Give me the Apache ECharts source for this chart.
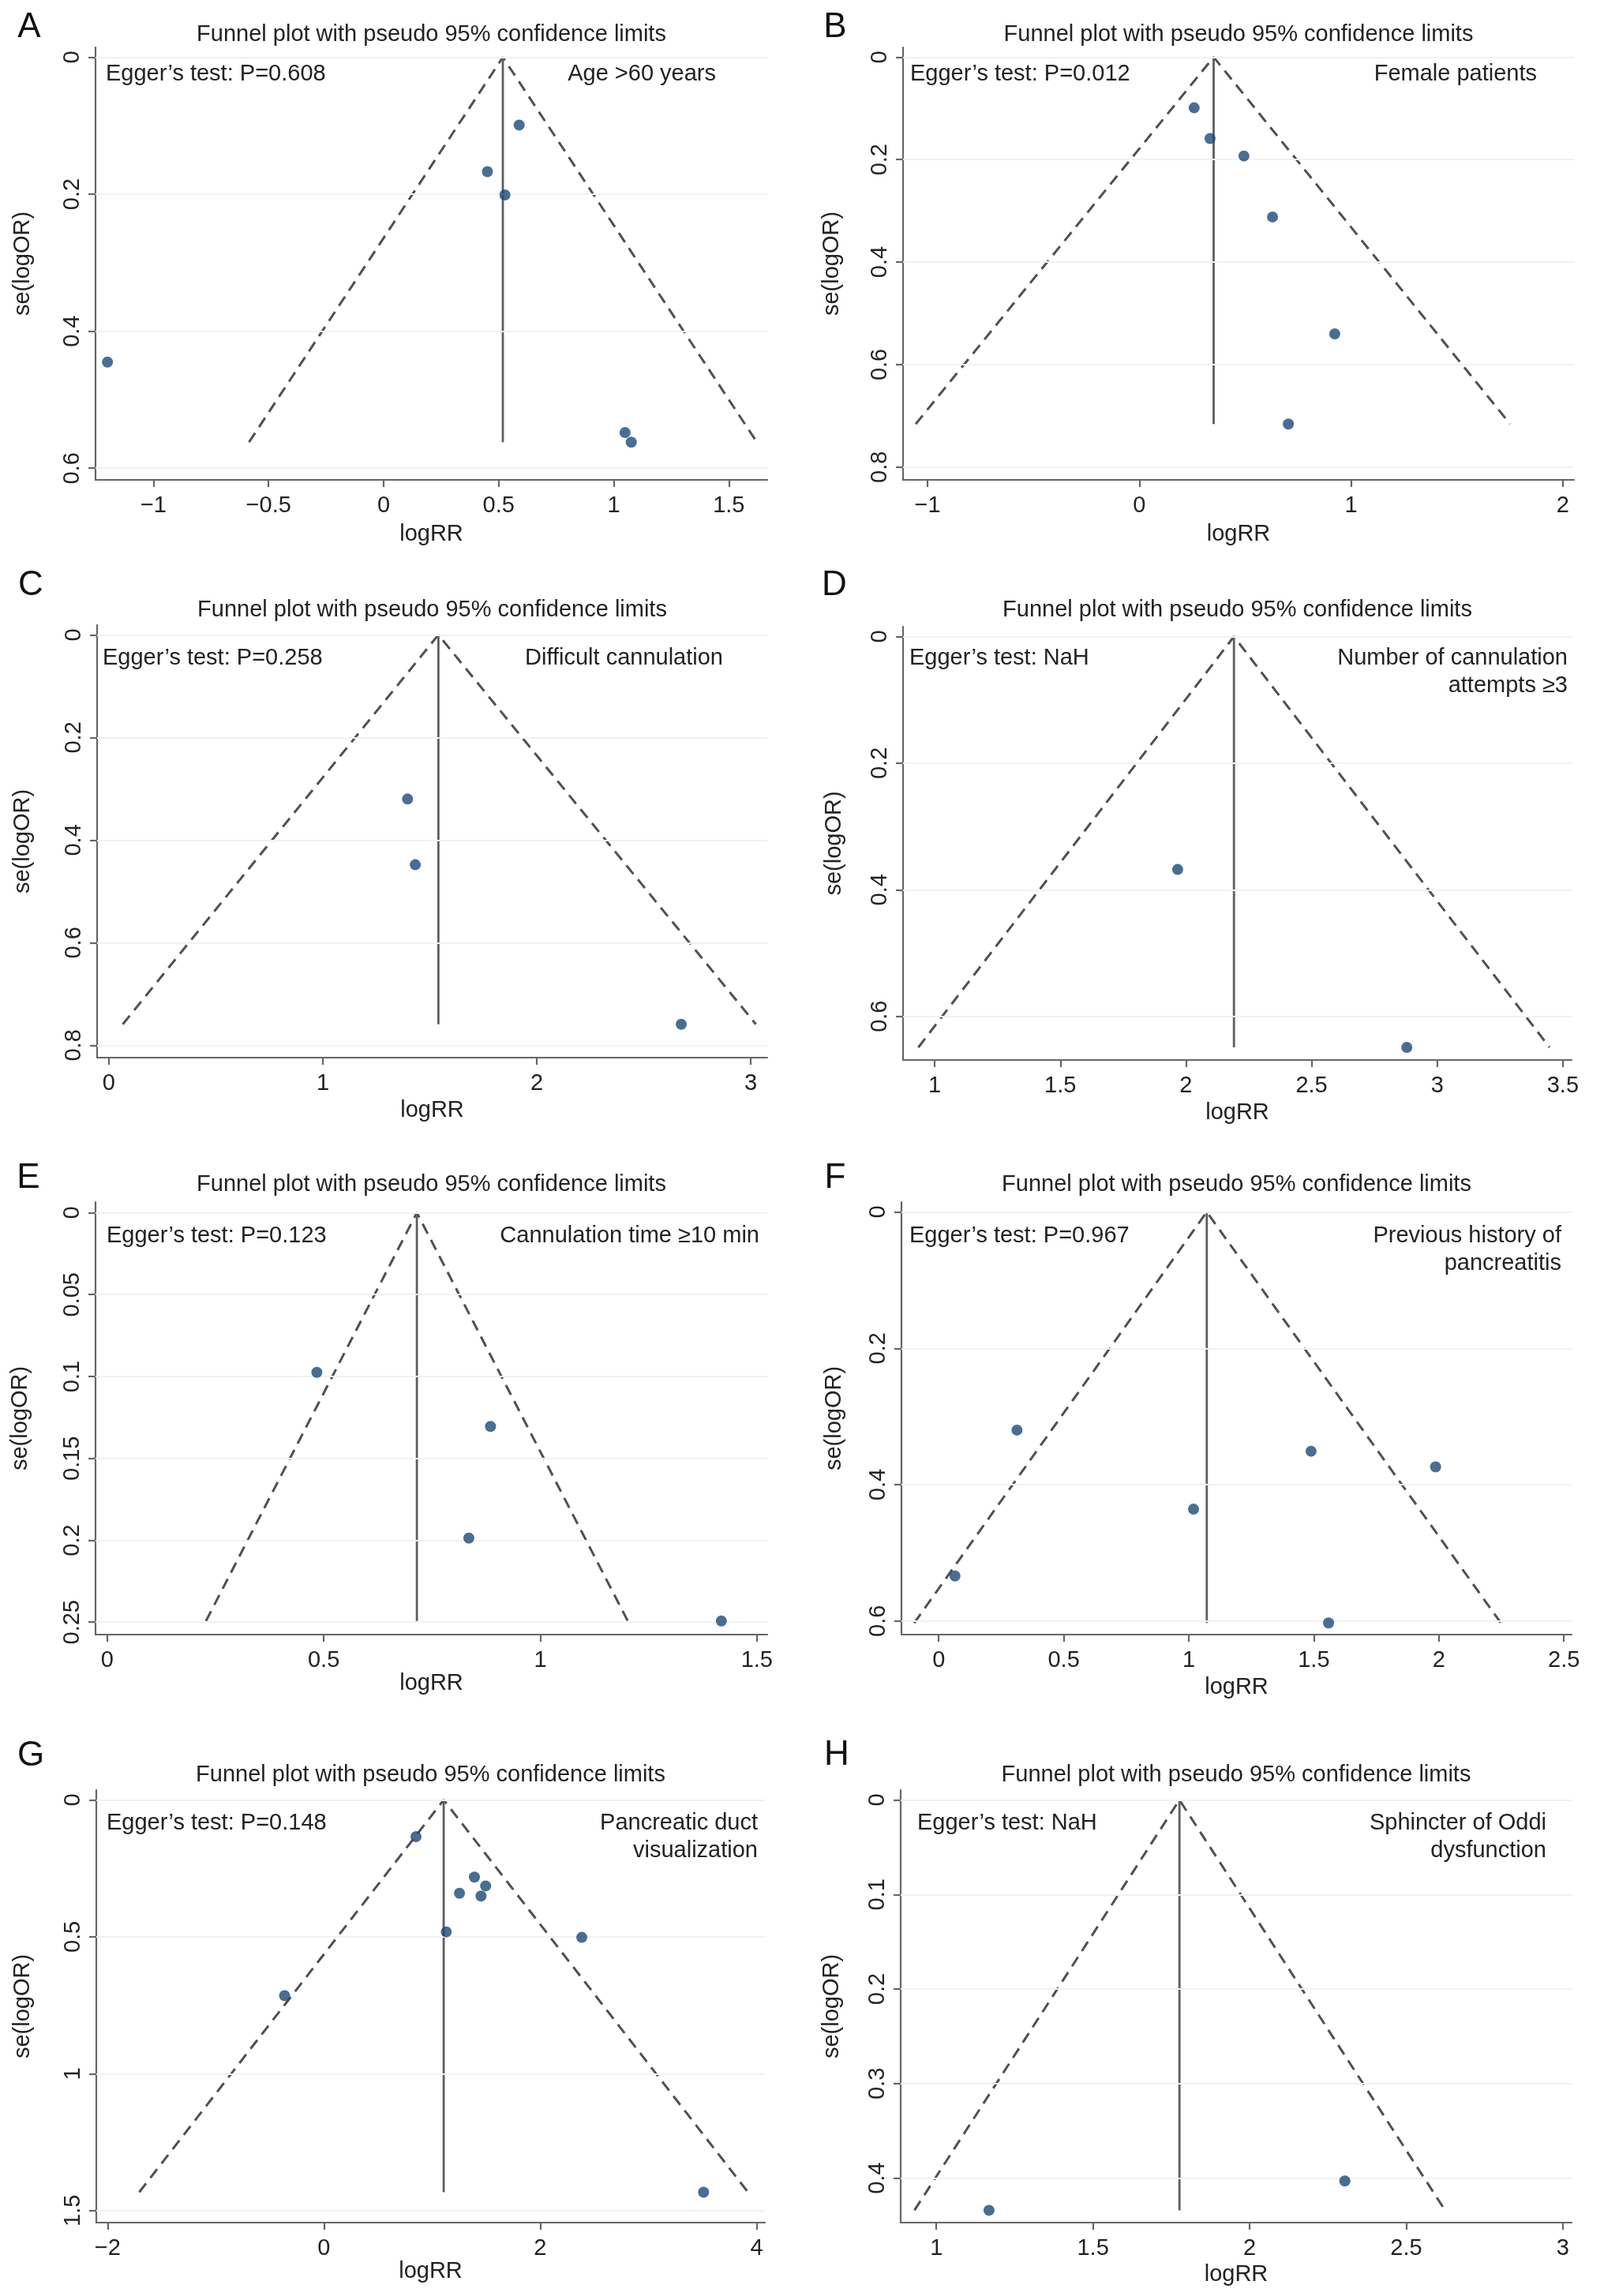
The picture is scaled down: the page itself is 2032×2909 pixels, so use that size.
<!DOCTYPE html>
<html>
<head>
<meta charset="utf-8">
<script src="https://cdn.jsdelivr.net/npm/echarts@6/dist/echarts.min.js"></script>
<style>
html,body{margin:0;padding:0;background:#fff;}
#chart{width:2032px;height:2909px;}
</style>
</head>
<body>
<div id="chart"></div>
<script>
// ---------- DATA ----------
const panelLetters = ['A', 'B', 'C', 'D', 'E', 'F', 'G', 'H'];
const plotTitle = 'Funnel plot with pseudo 95% confidence limits';
const xAxisName = 'logRR';
const yAxisName = 'se(logOR)';
const eggerTexts = [
  'Egger\u2019s test: P=0.608', 'Egger\u2019s test: P=0.012',
  'Egger\u2019s test: P=0.258', 'Egger\u2019s test: NaH',
  'Egger\u2019s test: P=0.123', 'Egger\u2019s test: P=0.967',
  'Egger\u2019s test: P=0.148', 'Egger\u2019s test: NaH'
];
const subgroupTexts = [
  ['Age >60 years'],
  ['Female patients'],
  ['Difficult cannulation'],
  ['Number of cannulation', 'attempts \u22653'],
  ['Cannulation time \u226510 min'],
  ['Previous history of', 'pancreatitis'],
  ['Pancreatic duct', 'visualization'],
  ['Sphincter of Oddi', 'dysfunction']
];

// studies: [logRR, se(logOR)]
const studiesA = [[0.589, 0.099], [0.451, 0.167], [0.527, 0.201], [-1.200, 0.445], [1.049, 0.548], [1.076, 0.562]];
const studiesB = [[0.259, 0.099], [0.334, 0.159], [0.494, 0.193], [0.629, 0.312], [0.923, 0.540], [0.704, 0.716]];
const studiesC = [[1.396, 0.320], [1.432, 0.448], [2.675, 0.759]];
const studiesD = [[1.967, 0.368], [2.879, 0.649]];
const studiesE = [[0.484, 0.0975], [0.885, 0.1305], [0.835, 0.1987], [1.418, 0.2493]];
const studiesF = [[0.313, 0.320], [1.489, 0.351], [1.987, 0.374], [1.019, 0.436], [0.065, 0.534], [1.559, 0.603]];
const studiesG = [[0.851, 0.134], [1.391, 0.282], [1.495, 0.314], [1.253, 0.341], [1.452, 0.351], [1.131, 0.482], [2.384, 0.502], [-0.364, 0.715], [3.510, 1.433]];
const studiesH = [[2.304, 0.403], [1.168, 0.434]];

// pseudo 95% limits: [lower end, apex (pooled), upper end]
const limitsA = [[-0.585, 0.562], [0.518, 0], [1.622, 0.562]];
const limitsB = [[-1.056, 0.716], [0.351, 0], [1.751, 0.716]];
const limitsC = [[0.065, 0.759], [1.540, 0], [3.024, 0.759]];
const limitsD = [[0.935, 0.649], [2.191, 0], [3.447, 0.649]];
const limitsE = [[0.228, 0.2493], [0.715, 0], [1.202, 0.2493]];
const limitsF = [[-0.098, 0.603], [1.072, 0], [2.248, 0.603]];
const limitsG = [[-1.708, 1.433], [1.107, 0], [3.921, 1.433]];
const limitsH = [[0.930, 0.434], [1.776, 0], [2.624, 0.434]];

// axis ranges and tick labels
const xRanges = [[-1.252, 1.667], [-1.116, 2.053], [-0.055, 3.077], [0.874, 3.535], [-0.027, 1.524], [-0.149, 2.531], [-2.105, 4.077], [0.886, 3.028]];
const yRanges = [[-0.0144, 0.617], [-0.019, 0.825], [-0.019, 0.824], [-0.0156, 0.669], [-0.0065, 0.2576], [-0.0145, 0.62], [-0.036, 1.544], [-0.0104, 0.447]];
const xTickValues = [
  [-1, -0.5, 0, 0.5, 1, 1.5], [-1, 0, 1, 2], [0, 1, 2, 3], [1, 1.5, 2, 2.5, 3, 3.5],
  [0, 0.5, 1, 1.5], [0, 0.5, 1, 1.5, 2, 2.5], [-2, 0, 2, 4], [1, 1.5, 2, 2.5, 3]
];
const yTickValues = [
  [0, 0.2, 0.4, 0.6], [0, 0.2, 0.4, 0.6, 0.8], [0, 0.2, 0.4, 0.6, 0.8], [0, 0.2, 0.4, 0.6],
  [0, 0.05, 0.1, 0.15, 0.2, 0.25], [0, 0.2, 0.4, 0.6], [0, 0.5, 1, 1.5], [0, 0.1, 0.2, 0.3, 0.4]
];

const studies = [studiesA, studiesB, studiesC, studiesD, studiesE, studiesF, studiesG, studiesH];
const limits = [limitsA, limitsB, limitsC, limitsD, limitsE, limitsF, limitsG, limitsH];

// ---------- LAYOUT (pixels) ----------
// plot box: [left, top, right, bottom]
const boxes = [
  [121, 60, 972, 608], [1144, 60, 1994, 608],
  [123, 792, 972, 1340], [1144, 794, 1991, 1343],
  [121, 1523, 972, 2071], [1142, 1523, 1991, 2071],
  [122, 2268, 969, 2816], [1141, 2268, 1991, 2816]
];
const letterPos = [[37, 35], [1058, 35], [39, 742], [1057, 742], [36, 1493], [1058, 1493], [39, 2225], [1060, 2224]];
const titleY = [43.5, 43.5, 773, 773, 1500.5, 1500.5, 2248.5, 2248.5];
const eggerPos = [[134, 94], [1153, 94], [130, 834], [1152, 834], [135, 1566], [1152, 1566], [135, 2310], [1162, 2310]];
const subgroupPos = [[907, 94], [1947, 94], [916, 834], [1986, 834], [962, 1566], [1978, 1566], [960, 2310], [1959, 2310]];
const xNameGap = [54.5, 54.5, 52.5, 52.5, 45, 52, 44.5, 51.5];
const yNameGap = [78, 76, 79.5, 73, 80.5, 71, 78.5, 73];

const FONT = '"Liberation Sans", Arial, Helvetica, sans-serif';
const TEXT = '#222';
const AXIS = '#666666';
const DOT = '#1a4a78';

const fmt = v => (v < 0 ? '\u2212' + Math.abs(v) : String(v));

const grids = [], xAxes = [], yAxes = [], series = [], graphics = [];

boxes.forEach((b, i) => {
  grids.push({left: b[0], top: b[1], width: b[2] - b[0], height: b[3] - b[1], containLabel: false});
  xAxes.push({
    type: 'value', gridIndex: i, min: xRanges[i][0], max: xRanges[i][1],
    name: xAxisName, nameLocation: 'middle', nameGap: xNameGap[i],
    nameTextStyle: {fontSize: 29, color: TEXT, fontFamily: FONT},
    axisLine: {show: true, onZero: false, lineStyle: {color: AXIS, width: 2.2}},
    axisTick: {show: true, length: 9, customValues: xTickValues[i], lineStyle: {color: AXIS, width: 2.2}},
    axisLabel: {show: true, customValues: xTickValues[i], formatter: fmt, margin: 18,
      fontSize: 29, color: TEXT, fontFamily: FONT},
    splitLine: {show: false}
  });
  yAxes.push({
    type: 'value', gridIndex: i, inverse: true, min: yRanges[i][0], max: yRanges[i][1],
    name: yAxisName, nameLocation: 'middle', nameGap: yNameGap[i],
    nameTextStyle: {fontSize: 29, color: TEXT, fontFamily: FONT},
    axisLine: {show: true, onZero: false, lineStyle: {color: AXIS, width: 2.2}},
    axisTick: {show: true, length: 9, customValues: yTickValues[i], lineStyle: {color: AXIS, width: 2.2}},
    axisLabel: {show: true, customValues: yTickValues[i], rotate: 90, margin: 15,
      fontSize: 29, color: TEXT, fontFamily: FONT},
    splitLine: {show: false}
  });
  // faint horizontal grid lines at the labelled se values
  series.push({
    type: 'line', xAxisIndex: i, yAxisIndex: i, data: [], silent: true, z: 1,
    markLine: {
      silent: true, symbol: ['none', 'none'], animation: false,
      label: {show: false},
      lineStyle: {color: '#f0f2f2', width: 2, type: 'solid'},
      data: yTickValues[i].map(v => ({yAxis: v}))
    }
  });
  // pseudo 95% confidence limits (dashed)
  series.push({
    type: 'line', xAxisIndex: i, yAxisIndex: i, data: limits[i], symbol: 'none', silent: true, z: 3,
    lineStyle: {color: '#505050', width: 3, type: [14, 9]}
  });
  // pooled estimate (solid vertical)
  const apex = limits[i][1];
  series.push({
    type: 'line', xAxisIndex: i, yAxisIndex: i,
    data: [[apex[0], apex[1]], [apex[0], limits[i][0][1]]],
    symbol: 'none', silent: true, z: 3,
    lineStyle: {color: '#5e5e5e', width: 2.8, type: 'solid'}
  });
  // studies
  series.push({
    type: 'scatter', xAxisIndex: i, yAxisIndex: i, data: studies[i], symbol: 'circle', symbolSize: 14, z: 5,
    itemStyle: {color: DOT}
  });

  // texts
  graphics.push({type: 'text', x: letterPos[i][0], y: letterPos[i][1],
    style: {text: panelLetters[i], font: '44px ' + FONT, fill: '#111', align: 'center', verticalAlign: 'middle', textAlign: 'center', textVerticalAlign: 'middle'}});
  graphics.push({type: 'text', x: (b[0] + b[2]) / 2, y: titleY[i],
    style: {text: plotTitle, font: '29px ' + FONT, fill: TEXT, align: 'center', verticalAlign: 'middle', textAlign: 'center', textVerticalAlign: 'middle'}});
  graphics.push({type: 'text', x: eggerPos[i][0], y: eggerPos[i][1],
    style: {text: eggerTexts[i], font: '29px ' + FONT, fill: TEXT, align: 'left', verticalAlign: 'middle', textAlign: 'left', textVerticalAlign: 'middle'}});
  subgroupTexts[i].forEach((t, k) => {
    graphics.push({type: 'text', x: subgroupPos[i][0], y: subgroupPos[i][1] + k * 34.5,
      style: {text: t, font: '29px ' + FONT, fill: TEXT, align: 'right', verticalAlign: 'middle', textAlign: 'right', textVerticalAlign: 'middle'}});
  });
});

const chart = echarts.init(document.getElementById('chart'), null, {renderer: 'canvas', width: 2032, height: 2909});
chart.setOption({
  animation: false,
  backgroundColor: '#ffffff',
  grid: grids,
  xAxis: xAxes,
  yAxis: yAxes,
  series: series,
  graphic: {elements: graphics}
});
</script>
</body>
</html>
